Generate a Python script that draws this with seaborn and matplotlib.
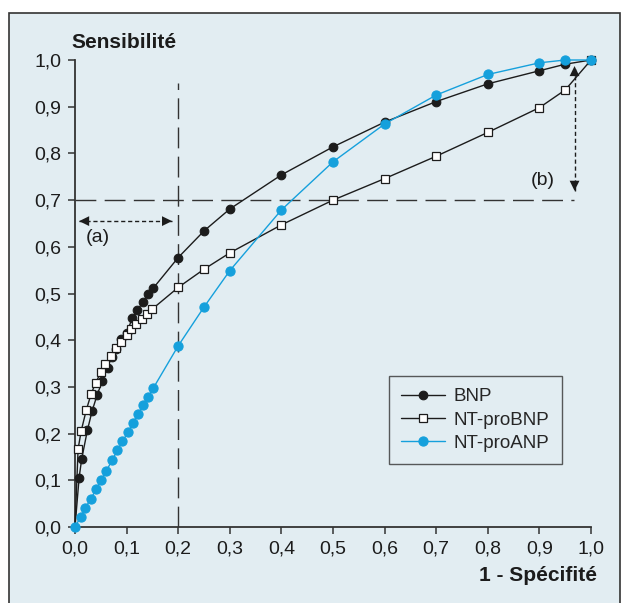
import numpy as np
import pandas as pd
import matplotlib
matplotlib.use("Agg")
import matplotlib.pyplot as plt
import seaborn as sns
from matplotlib.patches import Rectangle
from matplotlib.lines import Line2D
from matplotlib.ticker import FuncFormatter

# ROC curves (x = 1 - specificity, y = sensitivity)
bnp_x = [0.0, 0.008, 0.013, 0.024, 0.033, 0.043, 0.053, 0.063, 0.071, 0.079,
         0.089, 0.100, 0.111, 0.121, 0.131, 0.141, 0.152,
         0.20, 0.25, 0.30, 0.40, 0.50, 0.60, 0.70, 0.80, 0.90, 0.95, 1.0]
bnp_y = [0.0, 0.106, 0.146, 0.207, 0.248, 0.283, 0.313, 0.340, 0.365, 0.381,
         0.402, 0.416, 0.447, 0.464, 0.481, 0.498, 0.512,
         0.577, 0.634, 0.681, 0.754, 0.814, 0.867, 0.911, 0.949, 0.977, 0.991, 1.0]

ntbnp_x = [0.0, 0.006, 0.012, 0.022, 0.031, 0.040, 0.050, 0.059, 0.070, 0.079,
           0.089, 0.100, 0.109, 0.119, 0.130, 0.140, 0.150,
           0.20, 0.25, 0.30, 0.40, 0.50, 0.60, 0.70, 0.80, 0.90, 0.95, 1.0]
ntbnp_y = [0.0, 0.167, 0.206, 0.251, 0.284, 0.309, 0.331, 0.350, 0.366, 0.383,
           0.397, 0.411, 0.424, 0.435, 0.445, 0.457, 0.467,
           0.513, 0.552, 0.587, 0.647, 0.700, 0.746, 0.794, 0.845, 0.898, 0.936, 1.0]

ntanp_x = [0.0, 0.011, 0.020, 0.031, 0.041, 0.051, 0.061, 0.072, 0.082, 0.092,
           0.103, 0.112, 0.123, 0.132, 0.142, 0.152,
           0.20, 0.25, 0.30, 0.40, 0.50, 0.60, 0.70, 0.80, 0.90, 0.95, 1.0]
ntanp_y = [0.0, 0.022, 0.041, 0.061, 0.081, 0.101, 0.121, 0.143, 0.164, 0.184,
           0.203, 0.223, 0.243, 0.261, 0.279, 0.298,
           0.388, 0.471, 0.549, 0.679, 0.782, 0.863, 0.925, 0.969, 0.994, 1.0, 1.0]

series_names = ["BNP", "NT-proBNP", "NT-proANP"]
ticks = [0.0, 0.1, 0.2, 0.3, 0.4, 0.5, 0.6, 0.7, 0.8, 0.9, 1.0]

BG = "#e2edf2"
DARK = "#1c1c1c"
BLUE = "#15a0dc"
GREY = "#333333"

sns.set_style("ticks")
plt.rcParams["font.family"] = ["Liberation Sans", "DejaVu Sans"]

fig = plt.figure(figsize=(6.24, 6.03), dpi=100)
fig.patch.set_facecolor("white")
fig.add_artist(Rectangle((0.0144, -0.02), 0.979, 0.9985, transform=fig.transFigure,
                         facecolor=BG, edgecolor=GREY, linewidth=1.2, zorder=0))

ax = fig.add_axes([0.1202, 0.126, 0.827, 0.7745])
ax.set_facecolor("none")

# reference lines
ax.plot([0.2, 0.2], [0.0, 0.951], color=GREY, lw=1.0, dashes=(15, 6), zorder=1)
ax.plot([0.0, 0.967], [0.7, 0.7], color=GREY, lw=1.0, dashes=(15, 6), zorder=1)

curves = pd.DataFrame({
    "x": bnp_x + ntbnp_x + ntanp_x,
    "y": bnp_y + ntbnp_y + ntanp_y,
    "marqueur": ["BNP"] * len(bnp_x) + ["NT-proBNP"] * len(ntbnp_x)
                + ["NT-proANP"] * len(ntanp_x),
})

styles = {
    "BNP": dict(color=DARK, marker="o", markersize=6.2, markerfacecolor=DARK,
                markeredgecolor=DARK, markeredgewidth=0.8),
    "NT-proBNP": dict(color=DARK, marker="s", markersize=5.6, markerfacecolor="white",
                      markeredgecolor=DARK, markeredgewidth=0.9),
    "NT-proANP": dict(color=BLUE, marker="o", markersize=6.6, markerfacecolor=BLUE,
                      markeredgecolor=BLUE, markeredgewidth=0.8),
}
for name in series_names:
    sub = curves[curves["marqueur"] == name]
    sns.lineplot(data=sub, x="x", y="y", ax=ax, estimator=None, sort=False,
                 lw=1.0, clip_on=False, zorder=3, legend=False,
                 markevery=slice(1, None) if name != "NT-proANP" else None,
                 **styles[name])


def dashed_double_arrow(p0, p1):
    ax.plot([p0[0], p1[0]], [p0[1], p1[1]], color=DARK, lw=1.0,
            dashes=(3, 2), zorder=2)
    for a, b in [(p0, p1), (p1, p0)]:
        # short solid stub just for the filled head
        s = (a[0] + 0.04 * (b[0] - a[0]) / max(abs(b[0] - a[0]) + abs(b[1] - a[1]), 1e-9),
             a[1] + 0.04 * (b[1] - a[1]) / max(abs(b[0] - a[0]) + abs(b[1] - a[1]), 1e-9))
        ax.annotate("", xy=a, xytext=s,
                    arrowprops=dict(arrowstyle="-|>,head_length=0.45,head_width=0.22",
                                    color=DARK, lw=0.01, mutation_scale=16,
                                    shrinkA=0, shrinkB=0))


dashed_double_arrow((0.008, 0.655), (0.188, 0.655))
dashed_double_arrow((0.968, 0.72), (0.968, 0.987))
ax.text(0.044, 0.62, "(a)", fontsize=14, color=DARK, ha="center", va="center")
ax.text(0.907, 0.743, "(b)", fontsize=14, color=DARK, ha="center", va="center")

ax.set_xlim(0, 1)
ax.set_ylim(0, 1)
ax.set_xticks(ticks)
ax.set_yticks(ticks)
comma = FuncFormatter(lambda v, p: f"{v:.1f}".replace(".", ","))
ax.xaxis.set_major_formatter(comma)
ax.yaxis.set_major_formatter(comma)
ax.tick_params(axis="both", labelsize=14, length=5, width=1.1, color=GREY,
               labelcolor=DARK, pad=5)
ax.set_xlabel("")
ax.set_ylabel("")
sns.despine(ax=ax)
for side in ["left", "bottom"]:
    ax.spines[side].set_color(GREY)
    ax.spines[side].set_linewidth(1.3)

fig.text(0.115, 0.930, "Sensibilité", fontsize=15, fontweight="bold",
         color=DARK, ha="left", va="center")
fig.text(0.956, 0.046, "1 - Spécifité", fontsize=15, fontweight="bold",
         color=DARK, ha="right", va="center")

handles = [Line2D([], [], lw=1.0, **styles[n]) for n in series_names]
leg = ax.legend(handles, series_names, loc="upper left", bbox_to_anchor=(0.609, 0.323),
                borderaxespad=0, fontsize=13.5, frameon=True, fancybox=False,
                handlelength=2.3, labelspacing=0.32, handletextpad=0.5,
                borderpad=0.65, numpoints=1)
leg.get_frame().set_edgecolor(GREY)
leg.get_frame().set_facecolor(BG)
leg.get_frame().set_linewidth(1.0)

fig.savefig("out.png", dpi=100, facecolor="white")
